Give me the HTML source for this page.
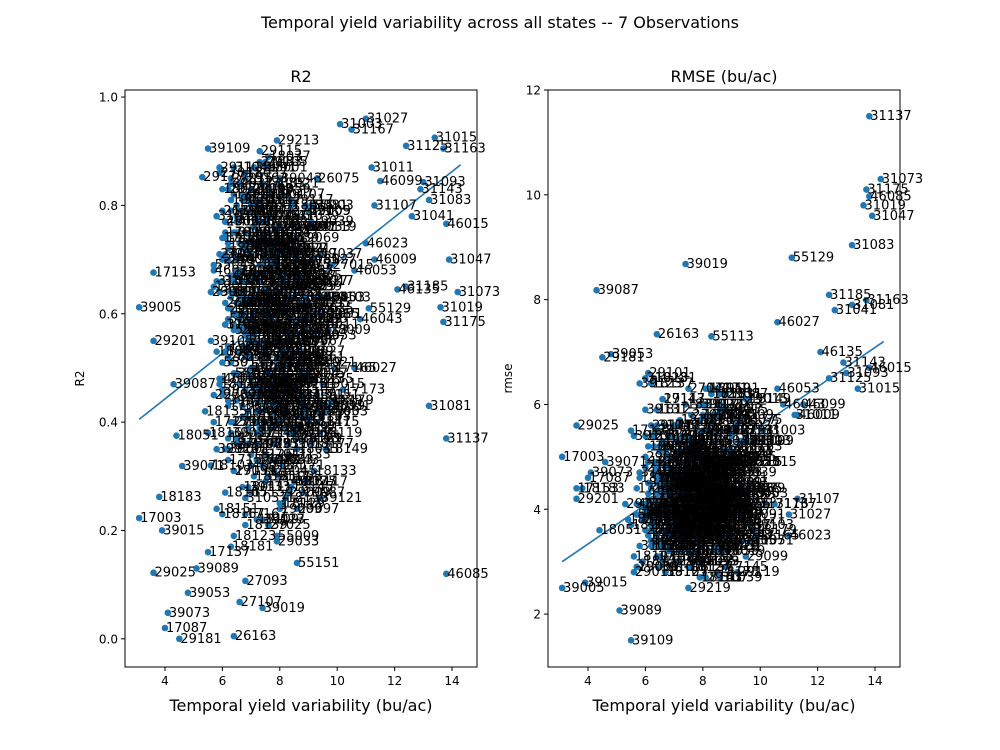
<!DOCTYPE html>
<html><head><meta charset="utf-8"><style>
body{margin:0;background:#fff}
svg{display:block;font-family:"DejaVu Sans","Liberation Sans",sans-serif}
</style></head><body>
<svg id="fig" width="1000" height="750" viewBox="0 0 1000 750">
<rect width="1000" height="750" fill="#fff"/>
<text x="500" y="28" font-size="16" text-anchor="middle">Temporal yield variability across all states -- 7 Observations</text>
<g id="left"></g>
<g id="right"></g>
</svg>
<script>
const fipsA=[31027,31003,31167,31015,31163,31125,31011,46099,31093,31083,31041,46015,31047,31073,31019,31175,46135,31185,31081,31137,46085,39005,17153,29201,17003,39073,17087,29181,26163,39109,29177,29213,29025,18183,18051,39071,39053,55151,27093,27107,39019,55129,39087,46027,55113,39089,31143,46009,46053,31107,46023,31039,29219,39015,46043,18115,
17001,17005,17007,17011,17015,17017,17019,17021,17023,17025,17027,17029,17031,17033,17037,17039,17041,17043,17045,17047,
18001,18003,18005,18007,18009,18011,18013,18015,18017,18019,18021,18023,18025,18027,18029,18031,18033,18035,18037,18039,
19001,19003,19005,19007,19009,19011,19013,19015,19017,19019,26005,26015,26023,26025,26045,26059,26065,26075,26091,26093,
27003,27005,27007,27011,27013,27015,27017,27019,27021,27023,27025,27027,27029,27033,27035,27037,27039,27041,27043,27045,
29001,29003,29005,29007,29009,29011,29013,29015,29017,29019,29021,29023,29027,29029,29031,29033,29035,29037,29039,29041,
31001,31005,31007,31009,31013,31017,31021,31023,31025,31029,31031,31033,31035,31037,31043,31045,31049,31051,31053,31055,
39001,39003,39007,39009,39011,39013,39017,39021,39023,39025,39027,39029,39031,39033,39035,39037,39039,39041,39043,39045,
46003,46005,46007,46011,46013,46017,46019,46021,46025,46029,55001,55003,55005,55009,55011,55013,55015,55017,55019,55021];
const fipsB=[17051,17053,17055,17057,17059,17061,17063,17065,17067,17069,17071,17073,17075,17077,17079,17081,17083,17085,17089,17091,
17093,17095,17097,17099,17101,17103,17105,17107,17109,17111,17113,17115,17117,17119,17121,17123,17125,17127,17129,17131,
18041,18043,18045,18047,18049,18053,18055,18057,18059,18061,18063,18065,18067,18069,18071,18073,18075,18077,18079,18081,
18083,18085,18087,18089,18091,18093,18095,18097,18099,18101,19021,19023,19025,19027,19029,19031,19033,19035,19037,19039,
26027,26035,26037,26049,26057,26067,26081,26087,26099,26111,27047,27049,27051,27053,27055,27057,27059,27061,27063,27065,
27067,27069,27071,27073,27075,27077,27079,27081,27083,27085,29043,29045,29047,29049,29051,29053,29055,29057,29059,29061,
29063,29065,29067,29069,29071,29073,29075,29077,29079,29081,31057,31059,31061,31063,31065,31067,31069,31071,31075,31077,
31079,31085,31087,31089,31091,31095,31097,31099,31101,31103,39047,39049,39051,39055,39057,39059,39061,39063,39065,39067,
39069,39075,39077,39079,39081,39083,39085,39091,39093,39095,46027,46031,46033,46035,46037,46039,46041,46045,46047,46049,
46051,46055,46057,46059,46061,46063,46065,46067,46069,46071,55023,55025,55027,55029,55031,55033,55035,55037,55039,55041,
55043,55045,55047,55049,55051,55053,55055,55057,55059,55061,19041,19043,19045,19047,19049,19051,19053,19055,19057,19059,
19061,19063,19065,19067,19069,19071,19073,19075,19077,19079,26101,26103,26105,26107,26109,26113,26115,26117,26119,26121];
const fipsC=[18103,18105,18107,18109,18111,18113,18117,18119,18121,18123,18125,18127,18129,18131,18133,18135,18137,18139,18141,18143,
18145,18147,18149,18151,18153,18155,18157,18159,18161,18163,18165,18167,18169,18171,18173,18175,18177,18179,18181,18185,
29083,29085,29087,29089,29091,29093,29095,29097,29099,29101,29103,29105,29107,29109,29111,29113,29115,29117,29119,29121,
39097,39099,39101,39103,39105,39107,39109,39111,39113,39115,39117,39119,39121,39123,39125,39127,39129,39131,39133,39135,
17133,17135,17137,17139,17141,17143,17145,17147,17149,17151,17155,17157,17159,17161,17163,17165,17167,17169,17171,17173];
const variabilityA=[11.0,10.1,10.5,13.4,13.7,12.4,11.2,11.5,13.0,13.2,12.6,13.8,13.9,14.2,13.6,13.7,12.1,12.4,13.2,13.8,13.8,3.1,3.6,3.6,3.1,4.1,4.0,4.5,6.4,5.5,5.3,7.9,3.6,3.8,4.4,4.6,4.8,8.6,6.8,6.6,7.4,11.1,4.3,10.6,8.3,5.1,12.9,11.3,10.6,11.3,11.0,8.6,7.5,3.9,10.8,9.3,
6.2,7.1,8.3,6.8,7.6,9.1,5.9,7.9,8.7,6.5,7.3,8.0,6.9,7.7,9.4,6.1,8.5,7.2,6.6,8.9,
7.5,6.3,8.1,7.0,9.7,6.7,7.8,8.4,5.8,7.4,8.8,6.4,7.9,9.2,6.0,7.1,8.6,6.9,7.6,8.2,
5.7,7.3,9.0,6.8,8.0,7.5,6.2,9.5,7.7,8.3,6.6,7.2,8.9,6.1,7.8,8.5,6.7,9.3,7.0,8.1,
6.3,7.4,8.7,5.9,7.9,9.8,6.5,7.1,8.4,6.9,7.6,8.2,6.0,7.3,9.1,6.8,8.0,7.5,6.4,8.6,
7.2,9.6,6.2,7.8,8.3,5.6,7.0,8.8,6.6,7.7,9.0,6.1,7.4,8.5,6.7,7.9,8.1,6.3,9.4,7.1,
6.9,8.0,7.6,6.5,8.7,7.3,9.2,6.0,7.8,8.4,5.8,7.2,8.9,6.8,7.5,8.2,6.4,9.7,7.0,8.6,
6.2,7.7,8.1,6.6,9.3,7.4,5.9,8.3,7.9,6.7,8.8,7.1,6.3,9.0,7.6,8.5,6.1,7.3,8.0,6.9,
9.5,7.8,6.5,8.2,7.0,5.7,8.7,7.5,6.8,8.4,7.2,9.1,6.4,7.9,8.6,6.0,7.4,8.3,6.6,7.7];
const variabilityB=[6.4,7.0,7.5,8.1,6.7,7.3,7.9,8.4,6.2,6.9,7.6,8.2,6.5,7.1,7.7,8.6,6.8,7.4,8.0,8.8,
6.1,6.6,7.2,7.8,8.3,9.0,6.3,7.0,7.5,8.1,6.9,7.6,8.5,6.4,7.1,7.9,8.7,6.0,6.7,7.3,
7.8,8.4,9.2,6.5,7.2,7.7,8.2,6.8,7.4,8.0,6.2,6.9,7.5,8.6,7.1,7.8,8.3,6.6,7.3,8.9,
6.4,7.0,7.6,8.1,6.1,6.8,7.4,8.5,7.2,7.9,6.3,7.7,8.2,6.7,7.5,8.8,6.5,7.1,8.0,9.1,
6.9,7.6,8.4,6.2,7.3,7.8,8.6,6.6,7.0,8.3,5.9,6.8,7.5,8.1,7.2,7.9,8.7,6.4,7.4,9.3,
6.7,7.1,7.7,8.2,6.3,6.9,7.6,8.5,7.3,8.0,6.5,7.8,8.4,6.0,7.0,7.5,8.9,6.8,7.2,8.1,
6.6,7.4,7.9,8.6,6.2,7.1,7.7,8.3,6.9,7.6,5.8,6.4,7.3,8.0,8.7,6.7,7.5,8.2,7.0,7.8,
6.1,6.9,7.6,8.4,9.4,6.5,7.2,7.9,6.3,8.5,6.8,7.4,8.1,6.6,7.0,7.7,8.8,6.4,7.3,8.0,
7.5,8.3,6.2,6.9,7.8,8.6,6.7,7.1,7.6,9.0,6.0,6.5,7.2,8.2,7.4,7.9,8.4,6.8,7.0,8.7,
6.3,7.3,7.7,8.1,6.6,7.5,8.5,6.1,6.9,7.8,7.2,8.0,6.4,7.6,8.3,6.7,7.1,8.9,6.5,7.4,
5.7,6.8,7.9,8.2,7.0,7.5,8.6,6.2,7.3,8.1,6.9,7.7,8.4,6.6,7.2,7.8,9.2,6.3,7.0,7.6,
6.5,7.4,8.0,8.8,6.1,6.8,7.5,8.3,7.1,7.9,6.4,7.2,7.7,8.5,6.7,7.3,8.1,6.0,6.9,7.6];
const variabilityC=[5.6,6.1,6.7,7.2,7.8,8.3,8.9,9.4,5.9,6.4,7.0,7.5,8.1,8.6,9.2,5.4,6.2,6.8,7.3,7.9,
8.4,9.0,9.6,5.8,6.5,7.1,7.6,8.2,8.7,9.3,5.5,6.0,6.6,7.4,8.0,8.5,9.1,9.8,6.3,6.9,
7.7,8.3,8.8,5.7,6.4,7.2,7.9,8.6,9.5,6.1,6.8,7.5,8.1,9.0,5.9,6.6,7.3,8.4,9.2,6.2,
7.0,7.8,8.5,9.7,5.6,6.5,7.1,8.0,8.9,6.3,7.6,8.2,9.4,5.8,6.7,7.4,8.7,6.0,6.9,7.7,
8.3,9.1,5.5,6.4,7.2,8.0,8.8,6.6,7.5,9.3,5.7,6.2,7.0,7.9,8.6,9.9,6.8,7.3,8.1,10.2];
const r2A=[0.96,0.95,0.94,0.925,0.905,0.91,0.87,0.845,0.843,0.81,0.78,0.766,0.70,0.64,0.612,0.585,0.645,0.65,0.43,0.37,0.12,0.612,0.676,0.55,0.223,0.048,0.02,0.0,0.005,0.905,0.852,0.92,0.122,0.262,0.375,0.319,0.085,0.14,0.107,0.068,0.057,0.61,0.47,0.50,0.57,0.13,0.83,0.70,0.68,0.80,0.73,0.78,0.48,0.20,0.59,0.40,
0.72,0.55,0.63,0.41,0.78,0.66,0.48,0.84,0.59,0.37,0.69,0.52,0.81,0.45,0.71,0.58,0.76,0.33,0.64,0.49,
0.87,0.61,0.42,0.74,0.57,0.28,0.68,0.80,0.53,0.39,0.62,0.75,0.46,0.70,0.83,0.56,0.35,0.67,0.89,0.51,
0.65,0.44,0.79,0.60,0.24,0.73,0.54,0.47,0.82,0.38,0.68,0.77,0.43,0.62,0.31,0.71,0.57,0.85,0.50,0.66,
0.40,0.74,0.59,0.86,0.48,0.69,0.36,0.63,0.79,0.55,0.21,0.72,0.45,0.88,0.61,0.52,0.76,0.34,0.67,0.58,
0.80,0.42,0.70,0.56,0.27,0.64,0.83,0.49,0.73,0.39,0.60,0.77,0.46,0.65,0.53,0.18,0.71,0.84,0.44,0.62,
0.57,0.30,0.75,0.68,0.41,0.81,0.51,0.66,0.37,0.59,0.78,0.47,0.63,0.26,0.70,0.55,0.87,0.43,0.74,0.61,
0.35,0.69,0.50,0.79,0.58,0.22,0.64,0.72,0.45,0.82,0.53,0.67,0.38,0.76,0.60,0.29,0.71,0.48,0.85,0.56,
0.63,0.42,0.77,0.54,0.32,0.68,0.59,0.46,0.73,0.65,0.40,0.80,0.57,0.19,0.66,0.51,0.75,0.36,0.62,0.70];
const r2B=[0.66,0.58,0.71,0.49,0.62,0.77,0.54,0.68,0.43,0.73,0.60,0.52,0.80,0.65,0.47,0.70,0.56,0.84,0.61,0.45,
0.75,0.63,0.50,0.69,0.57,0.41,0.79,0.66,0.53,0.72,0.59,0.44,0.67,0.82,0.55,0.64,0.48,0.74,0.60,0.38,
0.70,0.52,0.63,0.78,0.46,0.68,0.57,0.86,0.61,0.50,0.73,0.42,0.65,0.56,0.76,0.48,0.69,0.62,0.54,0.80,
0.58,0.71,0.45,0.66,0.53,0.75,0.60,0.39,0.67,0.51,0.81,0.63,0.47,0.72,0.58,0.44,0.70,0.55,0.64,0.77,
0.49,0.61,0.68,0.52,0.74,0.43,0.66,0.59,0.83,0.56,0.71,0.46,0.62,0.57,0.78,0.50,0.65,0.40,0.69,0.60,
0.54,0.73,0.48,0.67,0.85,0.58,0.44,0.63,0.72,0.51,0.62,0.76,0.55,0.70,0.47,0.65,0.59,0.79,0.42,0.68,
0.57,0.64,0.52,0.74,0.61,0.45,0.70,0.56,0.82,0.49,0.66,0.60,0.73,0.43,0.67,0.54,0.77,0.62,0.48,0.71,
0.58,0.36,0.65,0.53,0.60,0.75,0.50,0.69,0.63,0.46,0.72,0.55,0.41,0.67,0.80,0.59,0.52,0.64,0.47,0.76,
0.61,0.69,0.44,0.57,0.73,0.50,0.66,0.87,0.54,0.62,0.48,0.70,0.58,0.65,0.42,0.74,0.56,0.63,0.79,0.51,
0.67,0.45,0.71,0.60,0.53,0.68,0.38,0.77,0.62,0.55,0.33,0.64,0.49,0.72,0.58,0.81,0.46,0.66,0.60,0.52,
0.69,0.57,0.75,0.43,0.63,0.51,0.70,0.59,0.47,0.65,0.54,0.78,0.61,0.68,0.44,0.72,0.56,0.64,0.50,0.83,
0.60,0.47,0.67,0.55,0.74,0.62,0.40,0.69,0.57,0.52,0.71,0.63,0.48,0.76,0.58,0.66,0.53,0.79,0.45,0.61];
const r2C=[0.32,0.27,0.41,0.22,0.36,0.45,0.29,0.38,0.47,0.19,0.34,0.43,0.25,0.39,0.31,0.42,0.37,0.21,0.46,0.33,
0.28,0.40,0.35,0.24,0.44,0.30,0.48,0.26,0.37,0.42,0.38,0.23,0.47,0.32,0.41,0.29,0.36,0.44,0.17,0.39,
0.33,0.48,0.27,0.45,0.31,0.36,0.40,0.24,0.43,0.35,0.85,0.88,0.82,0.79,0.87,0.84,0.90,0.81,0.76,0.83,
0.52,0.58,0.47,0.63,0.55,0.49,0.60,0.44,0.57,0.51,0.30,0.39,0.26,0.35,0.43,0.22,0.37,0.46,0.28,0.41,
0.34,0.48,0.16,0.31,0.38,0.25,0.42,0.36,0.29,0.45,0.40,0.33,0.27,0.44,0.37,0.50,0.23,0.39,0.32,0.46];
const rmseA=[3.9,5.5,4.1,6.3,7.99,6.5,5.8,6.0,6.6,9.04,7.8,6.7,9.6,10.3,9.8,10.1,7.0,8.09,7.9,11.5,9.97,2.5,4.4,4.2,5.0,4.7,4.6,6.9,7.34,1.5,4.1,5.2,5.6,4.4,3.6,4.9,6.96,3.3,3.6,3.4,8.68,8.8,8.18,7.57,7.3,2.07,6.8,5.8,6.3,4.2,3.5,2.7,2.5,2.6,6.0,4.9,
4.1,3.6,4.8,3.3,5.2,4.4,3.9,4.6,5.5,3.1,4.3,3.8,5.0,4.7,3.4,4.2,5.8,3.7,4.5,4.0,
3.2,4.9,4.1,3.5,5.3,4.4,3.0,4.8,3.9,5.1,4.6,3.3,4.2,5.6,3.8,4.0,4.7,3.6,5.0,4.3,
2.9,4.5,5.4,3.7,4.1,4.9,3.4,6.1,4.2,3.9,4.6,3.5,5.1,4.0,4.8,3.2,4.4,5.7,3.8,4.3,
3.6,4.7,5.2,4.1,3.3,4.9,4.0,3.7,5.5,4.5,3.1,4.2,4.8,3.9,5.0,4.4,3.5,6.3,4.1,3.8,
4.6,5.3,3.4,4.3,4.0,2.8,4.7,5.9,3.6,4.2,5.1,3.9,4.5,3.3,4.8,4.1,3.7,5.4,4.4,3.0,
4.0,4.6,3.5,5.2,4.3,3.8,4.9,6.5,4.1,3.6,4.7,3.2,4.4,5.0,3.9,4.2,5.6,3.4,4.5,4.0,
3.7,4.8,4.1,3.3,5.3,4.6,3.9,4.3,6.0,3.5,4.2,5.1,3.8,4.4,3.1,4.9,4.0,3.6,5.5,4.7,
4.3,3.4,4.6,5.8,3.9,4.1,3.2,4.8,4.5,3.7,5.0,4.2,3.5,4.4,6.2,3.8,4.6,4.0,3.3,4.9];
const rmseB=[4.2,3.7,4.6,4.0,5.1,3.5,4.4,4.9,3.9,4.3,3.6,4.8,4.1,5.3,3.8,4.5,4.0,3.4,4.7,5.0,
4.3,3.9,4.6,3.2,4.1,5.5,3.7,4.4,4.8,3.6,4.0,5.2,3.8,4.5,4.2,3.5,4.9,4.1,5.6,3.9,
4.6,3.3,4.3,4.7,3.8,5.1,4.0,3.6,4.4,4.9,3.7,4.2,5.4,3.9,4.5,3.4,4.8,4.1,3.6,5.0,
4.3,3.8,4.7,4.0,5.2,3.5,4.4,3.9,4.6,5.7,3.7,4.2,4.9,3.3,4.5,4.1,5.1,3.8,4.3,4.7,
3.6,5.3,4.0,4.4,3.9,4.8,3.4,4.2,5.0,4.6,3.8,4.1,4.5,5.5,3.7,4.3,3.5,4.9,4.0,4.4,
5.2,3.6,4.7,4.1,3.9,4.5,5.8,3.8,4.2,4.8,3.4,4.4,4.0,5.0,3.7,4.6,4.1,3.5,5.3,4.3,
4.9,3.8,4.2,4.5,3.6,5.1,4.0,4.7,3.9,4.4,3.3,4.6,5.4,3.8,4.1,4.8,3.6,4.3,5.0,4.0,
4.5,3.7,4.2,5.6,3.9,4.4,3.5,4.9,4.1,4.7,3.8,5.2,4.3,3.6,4.6,4.0,5.0,3.9,4.4,3.4,
4.8,4.1,3.7,4.5,5.5,3.8,4.2,4.7,3.6,5.1,4.0,4.4,3.5,4.9,4.2,3.9,5.3,4.6,3.7,4.3,
4.7,3.8,4.1,5.0,3.6,4.5,4.2,3.9,5.4,4.0,4.4,3.5,4.8,4.1,3.8,5.2,4.3,3.7,4.6,4.9,
3.9,4.2,5.7,3.6,4.5,4.0,4.7,3.4,4.3,5.0,4.1,4.6,3.8,5.3,4.2,3.7,4.9,4.0,4.4,3.6,
5.1,4.3,3.9,4.5,3.5,4.8,4.1,5.5,3.8,4.2,4.6,4.0,3.7,5.0,4.3,3.9,4.7,3.6,4.4,5.2];
const rmseC=[3.1,4.9,2.8,5.7,3.4,6.2,4.4,5.3,3.0,5.9,4.7,2.9,6.0,3.6,5.5,3.8,6.4,3.2,5.1,2.7,
5.8,3.5,6.1,4.6,3.3,5.6,2.9,6.3,4.0,5.2,3.7,5.4,3.0,6.0,4.3,2.8,5.7,3.6,6.5,3.2,
5.0,3.9,6.2,2.9,5.5,3.4,4.8,5.9,3.1,6.6,3.6,5.3,2.7,5.8,3.9,6.1,3.3,5.0,2.8,5.6,
4.5,3.0,6.3,3.7,5.4,2.9,4.7,6.0,3.5,5.2,3.2,5.7,3.8,6.4,2.8,5.1,3.6,5.9,4.2,3.0,
6.2,3.4,5.5,3.1,4.9,5.8,2.9,6.1,3.7,5.3,4.4,3.3,5.6,2.7,6.0,3.5,5.0,3.8,6.3,4.1];
const trendX=[3.1,14.3];
const trendR2=[0.405,0.875];
const trendRmse=[3.0,7.2];
const xTicks=[4,6,8,10,12,14];
const r2Ticks=[0.0,0.2,0.4,0.6,0.8,1.0];
const rmseTicks=[2,4,6,8,10,12];

const fips=fipsA.concat(fipsB,fipsC);
const variability=variabilityA.concat(variabilityB,variabilityC);
const r2=r2A.concat(r2B,r2C);
const rmse=rmseA.concat(rmseB,rmseC);

const NS='http://www.w3.org/2000/svg';
function mk(tag,attrs,parent){const e=document.createElementNS(NS,tag);for(const k in attrs)e.setAttribute(k,attrs[k]);parent.appendChild(e);return e;}

function panel(g,left,xmin,xmax,ymin,ymax,yvals,yticks,ylab,title,tline,fmt,ylabX){
  const L=left,R=left+352,T=90,B=667;
  const sx=v=>L+(v-xmin)/(xmax-xmin)*(R-L);
  const sy=v=>B-(v-ymin)/(ymax-ymin)*(B-T);
  const pts=mk('g',{},g);
  
  
  for(let i=0;i<yvals.length;i++){
    const c=mk('circle',{cx:sx(variability[i]),cy:sy(yvals[i]),r:3.3,fill:'#1f77b4'},pts);
    
    
  }
  const ln=mk('line',{x1:sx(trendX[0]),y1:sy(tline[0]),x2:sx(trendX[1]),y2:sy(tline[1]),stroke:'#1f77b4','stroke-width':1.6},g);
  
  
  const lbs=mk('g',{'font-size':13},g);
  
  
  for(let i=0;i<yvals.length;i++){
    const t=mk('text',{x:sx(variability[i])+1,y:sy(yvals[i])+4},lbs);
    t.textContent=fips[i];
    
    
  }
  const fr=mk('rect',{x:L,y:T,width:R-L,height:B-T,fill:'none',stroke:'#000','stroke-width':1},g);
  
  
  xTicks.forEach(v=>{
    const x=sx(v);
    const tk=mk('line',{x1:x,y1:B,x2:x,y2:B+4,stroke:'#000'},g);
    
    
    const t=mk('text',{x:x,y:B+18,'font-size':12,'text-anchor':'middle'},g);
    t.textContent=v;
    
    
  });
  yticks.forEach(v=>{
    const y=sy(v);
    const tk=mk('line',{x1:L-4,y1:y,x2:L,y2:y,stroke:'#000'},g);
    
    
    const t=mk('text',{x:L-7,y:y+4.5,'font-size':12,'text-anchor':'end'},g);
    t.textContent=fmt(v);
    
    
  });
  const tt=mk('text',{x:(L+R)/2,y:82,'font-size':16,'text-anchor':'middle'},g);
  tt.textContent=title;
  
  
  const xl=mk('text',{x:(L+R)/2,y:711,'font-size':16,'text-anchor':'middle'},g);
  xl.textContent='Temporal yield variability (bu/ac)';
  
  
  const yl=mk('text',{x:ylabX,y:(T+B)/2,'font-size':12,'text-anchor':'middle',transform:`rotate(-90 ${ylabX} ${(T+B)/2})`},g);
  yl.textContent=ylab;
  
  
}
panel(document.getElementById('left'),125,2.607,14.87,-0.052,1.013,r2,r2Ticks,'R2','R2',trendR2,v=>v.toFixed(1),84);
panel(document.getElementById('right'),548,2.607,14.87,0.99,12.0,rmse,rmseTicks,'rmse','RMSE (bu/ac)',trendRmse,v=>String(v),512);
</script>
</body></html>
